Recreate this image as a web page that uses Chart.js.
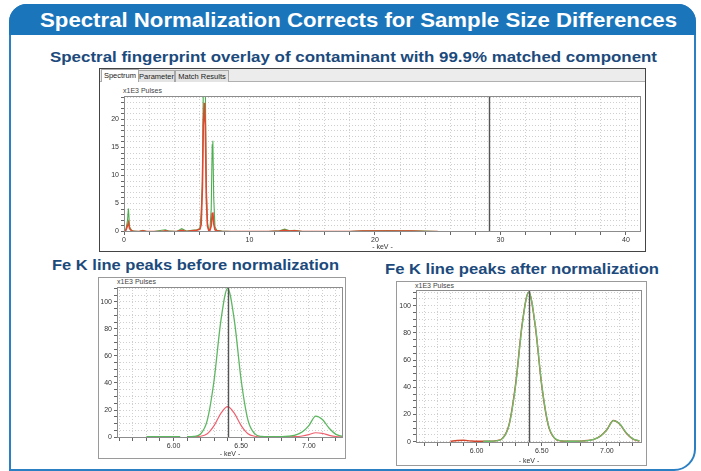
<!DOCTYPE html>
<html>
<head>
<meta charset="utf-8">
<script src="https://cdn.jsdelivr.net/npm/chart.js@4.4.1/dist/chart.umd.min.js"></script>
<style>
body { margin:0; width:701px; height:471px; background:#fff; position:relative; overflow:hidden; font-family:"Liberation Sans", Arial, sans-serif; }
.abs { position:absolute; }
#frame { left:9px; top:4px; width:683px; height:463px; border:2px solid #2b7fc3; border-radius:18px 18px 22px 0; }
#header { left:9px; top:4px; width:687px; height:31px; background:#1b75bb; border-radius:18px 18px 0 0; }
.fit { white-space:nowrap; font-weight:bold; transform-origin:left center; display:inline-block; }
#headText { left:40px; top:7px; color:#fff; font-size:21px; line-height:25px; }
.sub { color:#1c4a7c; font-size:15px; line-height:18px; }
.box { background:#fff; }
#topBox { left:99px; top:68px; width:545px; height:182px; border:1px solid #444; }
#beforeBox { left:98px; top:277px; width:246px; height:180px; border:1px solid #9a9a9a; }
#afterBox { left:396px; top:281px; width:249px; height:183px; border:1px solid #9a9a9a; }
#tabs { left:100px; top:69px; width:545px; height:12px; background:#ececec; border-bottom:1px solid #b0b0b0; }
.tab { position:absolute; top:1px; height:11px; font-size:7.5px; line-height:11px; color:#222; border:1px solid #a8a8a8; border-bottom:none; background:#e4e4e4; text-align:center; }
.tab.on { background:#fff; top:0; height:12px; }
.unit { font-size:7px; color:#444; line-height:8px; }
canvas { position:absolute; }
</style>
</head>
<body>
<div id="frame" class="abs"></div>
<div id="header" class="abs"></div>
<div id="headText" class="abs fit" data-w="637">Spectral Normalization Corrects for Sample Size Differences</div>
<div class="abs fit sub" data-w="607" style="left:50px;top:48px;">Spectral fingerprint overlay of contaminant with 99.9% matched component</div>
<div class="abs fit sub" data-w="287" style="left:52px;top:256px;">Fe K line peaks before normalization</div>
<div class="abs fit sub" data-w="274" style="left:385px;top:260px;">Fe K line peaks after normalization</div>

<div id="topBox" class="abs box"></div>
<div id="tabs" class="abs">
  <div class="tab on" style="left:1px;width:36px;">Spectrum</div>
  <div class="tab" style="left:38px;width:35px;">Parameter</div>
  <div class="tab" style="left:75px;width:52px;">Match Results</div>
</div>
<div id="beforeBox" class="abs box"></div>
<div id="afterBox" class="abs box"></div>

<div class="abs unit" style="left:123px;top:87px;">x1E3 Pulses</div>
<div class="abs unit" style="left:117px;top:278px;">x1E3 Pulses</div>
<div class="abs unit" style="left:415px;top:282px;">x1E3 Pulses</div>

<canvas id="topChart" width="545" height="169" style="left:100px;top:82px;"></canvas>
<canvas id="beforeChart" width="246" height="180" style="left:99px;top:278px;"></canvas>
<canvas id="afterChart" width="249" height="183" style="left:397px;top:282px;"></canvas>

<script>
// full spectrum overlay (keV, x1E3 pulses)
const overviewKeV = [0, 0.15, 0.28, 0.35, 0.45, 0.6, 0.8, 1.2, 1.5, 1.8, 2.4, 3.0, 3.3, 3.6, 4.2, 4.6, 5.0, 5.4, 5.8, 6.05, 6.15, 6.25, 6.32, 6.40, 6.48, 6.56, 6.65, 6.75, 6.85, 6.95, 7.03, 7.08, 7.15, 7.25, 7.4, 7.8, 8.5, 9.5, 10.5, 11.5, 12.4, 12.8, 13.2, 13.6, 14.2, 15, 16, 17, 18, 19, 20, 21, 22, 23, 24, 25];
const overviewMatch = [0, 0.3, 2.0, 4.1, 0.8, 0.2, 0.05, 0, 0.2, 0, 0, 0.2, 0.3, 0.05, 0, 0.5, 0.05, 0.2, 0.3, 0.5, 3.2, 9, 26, 31, 26, 8, 1.5, 0.2, 0.4, 4, 15.5, 16.2, 6, 0.8, 0.2, 0.05, 0, 0, 0, 0, 0.1, 0.4, 0.1, 0.2, 0, 0, 0, 0, 0, 0.1, 0.1, 0.15, 0.1, 0.1, 0.05, 0];
const overviewSample = [0, 0.2, 1.0, 1.6, 0.5, 0.1, 0, 0, 0.1, 0, 0, 0, 0.1, 0, 0, 0.2, 0, 0.1, 0.2, 0.4, 1.2, 8, 19, 23, 19, 6, 1, 0.2, 0.2, 1, 3.2, 3.4, 1.4, 0.3, 0.1, 0, 0, 0, 0, 0, 0.05, 0.2, 0.05, 0.1, 0, 0, 0, 0, 0, 0.05, 0.05, 0.05, 0.05, 0.05, 0, 0];
const overviewMarker = 29.1;

// Fe K region, before normalization (null = gap in trace)
const beforeKeV = [5.80, 5.85, 5.90, 5.95, 6.00, 6.05, 6.07, 6.10, 6.15, 6.20, 6.25, 6.30, 6.35, 6.40, 6.45, 6.50, 6.55, 6.60, 6.65, 6.70, 6.75, 6.80, 6.85, 6.90, 6.95, 7.00, 7.05, 7.10, 7.15, 7.20, 7.25];
const beforeMatch = [0.3, 0.3, 0.3, 0.3, 0.3, 0.3, null, 0.3, 0.5, 2.3, 12.5, 42, 86, 110, 86, 42, 12.5, 2.5, 0.5, 0.3, 0.3, 0.3, 0.6, 1.5, 3.8, 8.5, 15.5, 13, 6.5, 2, 0.5];
const beforeSample = [null, null, null, null, null, null, null, 0.2, 0.3, 0.6, 2.5, 8.5, 17.5, 22.5, 17.5, 8.5, 2.5, 0.6, 0.2, 0.2, 0.2, 0.2, 0.2, 0.3, 0.8, 1.8, 3.2, 2.7, 1.3, 0.4, 0.2];
const beforeMarker = 6.40;

// Fe K region, after normalization
const afterKeV = [5.80, 5.85, 5.90, 5.95, 6.00, 6.05, 6.10, 6.15, 6.20, 6.25, 6.30, 6.35, 6.40, 6.45, 6.50, 6.55, 6.60, 6.65, 6.70, 6.75, 6.80, 6.85, 6.90, 6.95, 7.00, 7.05, 7.10, 7.15, 7.20, 7.25];
const afterMatch = [null, null, null, null, null, 0.3, 0.3, 0.6, 2.4, 12.5, 42, 86, 110, 86, 42, 12.5, 2.5, 0.6, 0.3, 0.3, 0.4, 0.7, 1.6, 3.9, 8.6, 15.5, 13, 6.4, 2, 0.5];
const afterSample = [0.3, 0.8, 1.0, 0.6, 0.3, 0.3, 0.3, 0.7, 2.6, 13, 43, 87, 110, 85, 41, 12, 2.3, 0.5, 0.3, 0.3, 0.4, 0.8, 1.7, 4.1, 8.8, 15.6, 12.8, 6.2, 1.9, 0.5];
const afterMarker = 6.40;

const GREEN = '#4cae4f';
const RED = '#e0482f';

function pts(xs, ys) { return xs.map((x, i) => ({ x: x, y: ys[i] })); }

const frame = {
  id: 'frame',
  afterDatasetsDraw(chart, args, opts) {
    const ctx = chart.ctx, a = chart.chartArea;
    ctx.save();
    ctx.setLineDash([]);
    if (opts.marker != null) {
      const px = Math.round(chart.scales.x.getPixelForValue(opts.marker)) + 0.5;
      ctx.strokeStyle = '#555';
      ctx.lineWidth = 1.4;
      ctx.beginPath(); ctx.moveTo(px, a.top); ctx.lineTo(px, a.bottom); ctx.stroke();
    }
    ctx.strokeStyle = '#8c8c8c';
    ctx.lineWidth = 1;
    ctx.strokeRect(Math.round(a.left) + 0.5, Math.round(a.top) + 0.5, Math.round(a.width) - 1, Math.round(a.height) - 1);
    ctx.restore();
  }
};

const tickFont = { family: '"Liberation Sans", Arial, sans-serif', size: 7 };

// tick marks on every multiple of the step inside the axis range
function stepTicks(step) {
  return scale => {
    const out = [];
    for (let k = Math.ceil(scale.min / step - 1e-9); k * step <= scale.max + 1e-9; k++) {
      out.push({ value: Math.round(k * step * 1000) / 1000 });
    }
    scale.ticks = out;
  };
}

function every(n, digits) {
  return v => {
    const r = Math.round(v / n);
    return Math.abs(v - r * n) < 1e-6 ? (r * n).toFixed(digits) : '';
  };
}

function makeChart(id, datasets, o) {
  new Chart(document.getElementById(id), {
    type: 'line',
    data: { datasets: datasets },
    options: {
      responsive: false,
      animation: false,
      devicePixelRatio: 1,
      spanGaps: false,
      layout: { padding: o.padding },
      elements: { point: { radius: 0 } },
      plugins: { legend: { display: false }, tooltip: { enabled: false }, frame: { marker: o.marker } },
      scales: {
        x: {
          type: 'linear', min: o.xMin, max: o.xMax,
          afterBuildTicks: stepTicks(o.xStep),
          afterFit: s => { s.height = o.xHeight; },
          grid: { color: '#cfcfcf', tickColor: '#666', tickLength: 3 },
          border: { display: false, dash: [1, 2] },
          ticks: { autoSkip: false, maxRotation: 0, padding: 1, color: '#333', font: tickFont, callback: o.xLabel },
          title: { display: true, text: '- keV -', color: '#333', font: tickFont, padding: 0 }
        },
        y: {
          min: o.yMin, max: o.yMax,
          afterBuildTicks: stepTicks(o.yStep),
          afterFit: s => { s.width = o.yWidth; },
          grid: { color: '#cfcfcf', tickColor: '#666', tickLength: 3 },
          border: { display: false, dash: [1, 2] },
          ticks: { autoSkip: false, padding: 2, color: '#333', font: tickFont, callback: o.yLabel }
        }
      }
    },
    plugins: [frame]
  });
}

makeChart('topChart', [
  { data: pts(overviewKeV, overviewSample), borderColor: RED, borderWidth: 1.6, tension: 0 },
  { data: pts(overviewKeV, overviewMatch), borderColor: GREEN, borderWidth: 1.1, tension: 0 }
], {
  padding: { left: 2, right: 4, top: 14, bottom: 0 },
  xMin: 0, xMax: 41.2, xStep: 2, xLabel: every(10, 0), xHeight: 19,
  yMin: -0.1, yMax: 24.2, yStep: 1, yLabel: every(5, 0), yWidth: 22,
  marker: overviewMarker
});

makeChart('beforeChart', [
  { data: pts(beforeKeV, beforeMatch), borderColor: '#5db761', borderWidth: 1.3, cubicInterpolationMode: 'monotone' },
  { data: pts(beforeKeV, beforeSample), borderColor: '#ef5f6e', borderWidth: 1.2, cubicInterpolationMode: 'monotone' }
], {
  padding: { left: 2, right: 2, top: 9, bottom: 0 },
  xMin: 5.583, xMax: 7.252, xStep: 0.1, xLabel: every(0.5, 2), xHeight: 20,
  yMin: -0.7, yMax: 111, yStep: 5, yLabel: every(20, 0), yWidth: 16,
  marker: beforeMarker
});

makeChart('afterChart', [
  { data: pts(afterKeV, afterMatch), borderColor: '#6cbf6a', borderWidth: 1.3, cubicInterpolationMode: 'monotone' },
  { data: pts(afterKeV, afterSample), borderColor: '#d2452c', borderWidth: 1.4, cubicInterpolationMode: 'monotone' }
], {
  padding: { left: 2, right: 4, top: 8, bottom: 0 },
  xMin: 5.534, xMax: 7.27, xStep: 0.1, xLabel: every(0.5, 2), xHeight: 22,
  yMin: -1, yMax: 111.6, yStep: 5, yLabel: every(20, 0), yWidth: 17,
  marker: afterMarker
});

// squeeze headings to the widths they take in the picture
document.querySelectorAll('.fit').forEach(el => {
  const w = el.getBoundingClientRect().width;
  el.style.transform = 'scaleX(' + (Number(el.dataset.w) / w) + ')';
});
</script>
</body>
</html>
